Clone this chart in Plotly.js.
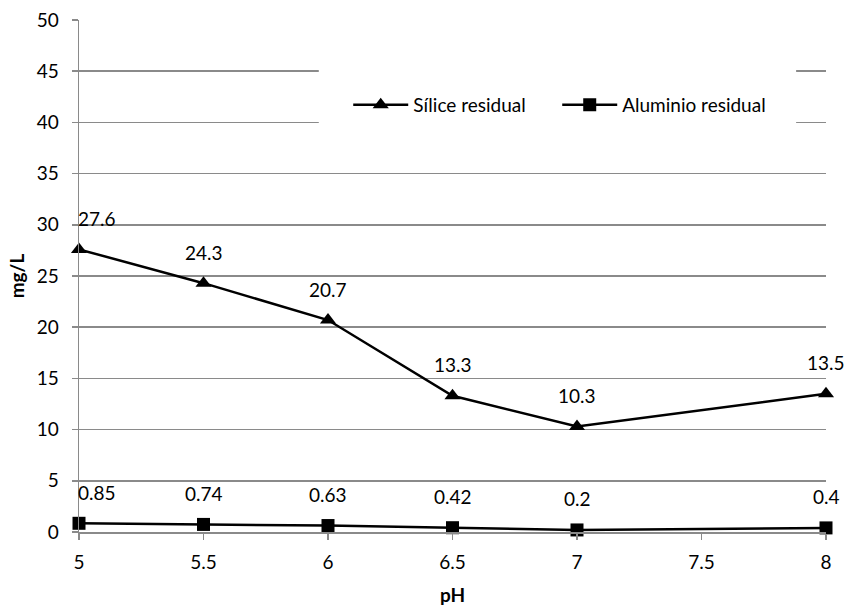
<!DOCTYPE html>
<html>
<head>
<meta charset="utf-8">
<script src="https://cdn.plot.ly/plotly-3.0.1.min.js"></script>
<style>html,body{margin:0;padding:0;background:#fff;}#chart{width:848px;height:606px;}</style>
</head>
<body>
<div id="chart"></div>
<script>
const pH = [5, 5.5, 6, 6.5, 7, 8];
const silice = [27.6, 24.3, 20.7, 13.3, 10.3, 13.5];
const aluminio = [0.85, 0.74, 0.63, 0.42, 0.2, 0.4];
const siliceLabels = ["27.6", "24.3", "20.7", "13.3", "10.3", "13.5"];
const aluminioLabels = ["0.85", "0.74", "0.63", "0.42", "0.2", "0.4"];
const xTicks = [5, 5.5, 6, 6.5, 7, 7.5, 8];
const xTickText = ["5", "5.5", "6", "6.5", "7", "7.5", "8"];
const yTicks = [0, 5, 10, 15, 20, 25, 30, 35, 40, 45, 50];

const FONT = "Lato, 'Open Sans', sans-serif";
const FS = 19;
const GRID = "#8a8a8a";

const traces = [
  {
    x: pH, y: silice, name: "Sílice residual", type: "scatter", mode: "lines+markers",
    line: {color: "#000", width: 2.5},
    marker: {symbol: "triangle-up", size: 14, color: "#000"},
    cliponaxis: false
  },
  {
    x: pH, y: aluminio, name: "Aluminio residual", type: "scatter", mode: "lines+markers",
    line: {color: "#000", width: 2.5},
    marker: {symbol: "square", size: 13, color: "#000"},
    cliponaxis: false
  }
];

function labels(xs, ys, txt) {
  return xs.map((x, i) => ({
    x: x, y: ys[i], text: txt[i], showarrow: false,
    xref: "x", yref: "y",
    xanchor: i === 0 ? "left" : "center", yanchor: "middle",
    yshift: 31, xshift: i === 0 ? -3 : 0,
    font: {family: FONT, size: FS, color: "#000"}
  }));
}

const layout = {
  width: 848, height: 606,
  margin: {l: 79, r: 22, t: 20, b: 74},
  paper_bgcolor: "#fff", plot_bgcolor: "#fff",
  font: {family: FONT, size: FS, color: "#000"},
  showlegend: true,
  legend: {
    orientation: "h", x: 0.3604, y: 0.834, xanchor: "left", yanchor: "middle",
    bgcolor: "rgba(0,0,0,0)", itemwidth: 55, entrywidth: 139,
    font: {family: FONT, size: FS, color: "#000"}
  },
  xaxis: {
    range: [5, 8], tickvals: xTicks, ticktext: xTickText,
    showgrid: false, zeroline: false,
    showline: true, linecolor: GRID, linewidth: 1.5,
    ticks: "outside", ticklen: 6, tickcolor: GRID, tickwidth: 1.5,
    ticklabelstandoff: 7,
    title: {text: "<b>pH</b>", font: {family: FONT, size: FS}, standoff: 18},
    tickfont: {family: FONT, size: FS}
  },
  yaxis: {
    range: [0, 50], tickvals: yTicks,
    showgrid: true, gridcolor: GRID, gridwidth: 1.5, zeroline: false,
    showline: true, linecolor: GRID, linewidth: 1.5,
    ticks: "outside", ticklen: 6, tickcolor: GRID, tickwidth: 1.5,
    ticklabelstandoff: 9,
    title: {text: "<b>mg/L</b>", font: {family: FONT, size: FS}, standoff: 7},
    tickfont: {family: FONT, size: FS}
  },
  shapes: [
    {type: "rect", xref: "paper", yref: "paper", x0: 0.321, x1: 0.96, y0: 0.704, y1: 0.915,
     fillcolor: "#fff", line: {width: 0}, layer: "above"}
  ],
  annotations: labels(pH, silice, siliceLabels).concat(labels(pH, aluminio, aluminioLabels))
};

Plotly.newPlot("chart", traces, layout, {displayModeBar: false, staticPlot: true});
</script>
</body>
</html>
